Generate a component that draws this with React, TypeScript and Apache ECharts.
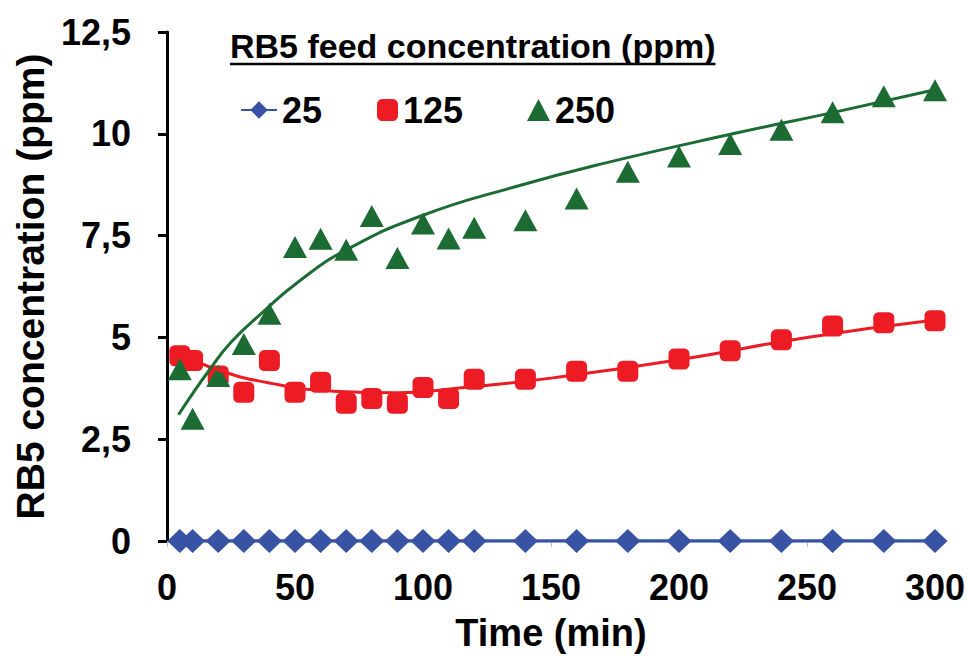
import React, { useEffect, useRef } from "react";
import * as echarts from "echarts";

const FONT = '"Liberation Sans", Arial, sans-serif';
const BLUE = "#3853A4";
const RED = "#ED1C24";
const GREEN = "#1B6B32";

const legendTitle = "RB5 feed concentration (ppm)";
const xName = "Time (min)";
const yName = "RB5 concentration (ppm)";

const times = [5, 10, 20, 30, 40, 50, 60, 70, 80, 90, 100, 110, 120, 140, 160, 180, 200, 220, 240, 260, 280, 300];
const feed25 = [0, 0, 0, 0, 0, 0, 0, 0, 0, 0, 0, 0, 0, 0, 0, 0, 0, 0, 0, 0, 0, 0];
const feed125 = [4.55, 4.43, 4.05, 3.65, 4.43, 3.65, 3.9, 3.38, 3.5, 3.38, 3.77, 3.5, 3.97, 3.97, 4.17, 4.17, 4.47, 4.67, 4.94, 5.28, 5.36, 5.41];
const feed250 = [4.22, 3.0, 4.05, 4.84, 5.58, 7.22, 7.42, 7.15, 7.98, 6.95, 7.8, 7.43, 7.69, 7.88, 8.41, 9.07, 9.44, 9.75, 10.1, 10.53, 10.92, 11.07];

const trend125Times = [5, 20, 40, 65, 90, 116, 150, 200, 250, 300];
const trend125Values = [4.6, 4.2, 3.88, 3.68, 3.64, 3.77, 4.0, 4.45, 5.0, 5.43];
const trend250Times = [4.5, 10, 16, 25, 38, 51, 70, 100, 136, 169, 221, 260, 300];
const trend250Values = [3.1, 3.62, 4.15, 4.88, 5.65, 6.35, 7.15, 8.0, 8.7, 9.25, 10.0, 10.52, 11.08];

const pairs = (xs: number[], ys: number[]) => xs.map((x, i) => [x, ys[i]]);

export default function App() {
  const ref = useRef<HTMLDivElement>(null);
  useEffect(() => {
    document.body.style.margin = "0";
    const chart = echarts.init(ref.current!, null, { renderer: "svg" });

    const titleFont = `bold 34px ${FONT}`;
    const ctx = document.createElement("canvas").getContext("2d")!;
    ctx.font = titleFont;
    const titleW = ctx.measureText(legendTitle).width;
    const titleX = 230;

    const legendText = { fontSize: 36, fontWeight: "bold" as const, color: "#000", fontFamily: FONT };
    const legendBase = { top: 92, padding: 0, selectedMode: false, itemHeight: 22, textStyle: legendText };

    chart.setOption({
      animation: false,
      backgroundColor: "#fff",
      textStyle: { fontFamily: FONT },
      grid: { left: 167, right: 33, top: 32, bottom: 121, outerBoundsMode: "none" },
      graphic: [
        {
          type: "text",
          left: titleX,
          top: 29,
          style: { text: legendTitle, font: titleFont, fill: "#000" },
        },
        {
          type: "line",
          shape: { x1: titleX, y1: 64, x2: titleX + titleW, y2: 64 },
          style: { stroke: "#000", lineWidth: 2.5 },
        },
      ],
      legend: [
        { ...legendBase, left: 240, itemWidth: 36, data: ["25"] },
        { ...legendBase, left: 377, itemWidth: 21, data: ["125"] },
        { ...legendBase, left: 527, itemWidth: 23, data: ["250"] },
      ],
      xAxis: {
        type: "value",
        min: 0,
        max: 300,
        interval: 50,
        name: xName,
        nameLocation: "middle",
        nameGap: 73,
        nameTextStyle: { fontSize: 38, fontWeight: "bold", color: "#000", fontFamily: FONT },
        axisLine: { show: true, lineStyle: { color: "#c8c8c8", width: 1 } },
        axisTick: { show: true, length: 6, lineStyle: { color: "#c0c0c0", width: 1 } },
        axisLabel: { margin: 28, fontSize: 36, fontWeight: "bold", color: "#000", fontFamily: FONT },
        splitLine: { show: false },
      },
      yAxis: {
        type: "value",
        min: 0,
        max: 12.5,
        interval: 2.5,
        name: yName,
        nameLocation: "middle",
        nameGap: 115,
        nameTextStyle: { fontSize: 39, fontWeight: "bold", color: "#000", fontFamily: FONT },
        axisLine: { show: true, lineStyle: { color: "#000", width: 3 } },
        axisTick: { show: true, length: 9, lineStyle: { color: "#000", width: 3 } },
        axisLabel: {
          margin: 36,
          fontSize: 36,
          fontWeight: "bold",
          color: "#000",
          fontFamily: FONT,
          formatter: (v: number) => String(v).replace(".", ","),
        },
        splitLine: { show: false },
      },
      series: [
        {
          name: "25",
          type: "line",
          data: pairs(times, feed25),
          symbol: "diamond",
          symbolSize: [25, 24],
          itemStyle: { color: BLUE, opacity: 1 },
          lineStyle: { color: BLUE, width: 3.5 },
          z: 3,
        },
        {
          name: "125",
          type: "scatter",
          data: pairs(times, feed125),
          symbol: "roundRect",
          symbolSize: 21,
          itemStyle: { color: RED, opacity: 1 },
          z: 3,
        },
        {
          name: "250",
          type: "scatter",
          data: pairs(times, feed250),
          symbol: "triangle",
          symbolSize: [24, 22],
          itemStyle: { color: GREEN, opacity: 1 },
          z: 4,
        },
        {
          name: "125 trend",
          type: "line",
          data: pairs(trend125Times, trend125Values),
          showSymbol: false,
          symbol: "none",
          smooth: 0.5,
          lineStyle: { color: RED, width: 3 },
          z: 5,
        },
        {
          name: "250 trend",
          type: "line",
          data: pairs(trend250Times, trend250Values),
          showSymbol: false,
          symbol: "none",
          smooth: 0.5,
          lineStyle: { color: GREEN, width: 3 },
          z: 6,
        },
      ],
    });
    return () => chart.dispose();
  }, []);
  return <div ref={ref} style={{ width: 968, height: 662 }} />;
}
